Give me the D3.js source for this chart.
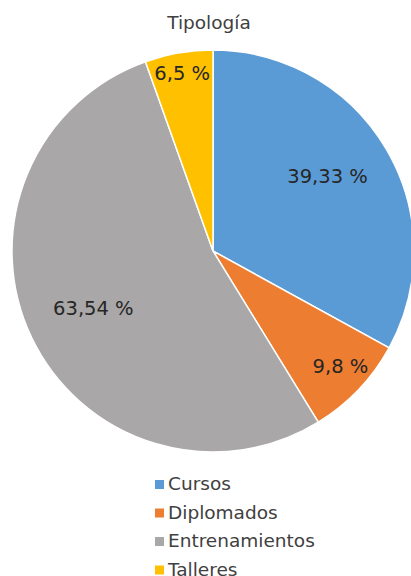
<!DOCTYPE html>
<html><head><meta charset="utf-8">
<script src="https://cdn.jsdelivr.net/npm/d3@7"></script>
<style>html,body{margin:0;padding:0;background:#fff;overflow:hidden}</style>
</head><body>
<svg id="c" width="411" height="576"></svg>
<script>
const title = "Tipología";
const categories = ["Cursos", "Diplomados", "Entrenamientos", "Talleres"];
const values = [39.33, 9.8, 63.54, 6.5];
const labels = ["39,33 %", "9,8 %", "63,54 %", "6,5 %"];
const colors = ["#5B9BD5", "#ED7D31", "#A9A7A7", "#FFC000"];

const svg = d3.select("#c");
const font = "'DejaVu Sans', Verdana, sans-serif";
const cx = 213, cy = 251, r = 201;

svg.append("text").attr("x", 209).attr("y", 29).attr("text-anchor", "middle")
  .attr("font-family", font).attr("font-size", 18.5).attr("fill", "#404040").text(title);

const pie = d3.pie().sort(null).value(d => d)(values);
const arc = d3.arc().innerRadius(0).outerRadius(r);
const g = svg.append("g").attr("transform", `translate(${cx},${cy})`);
g.selectAll("path").data(pie).join("path")
  .attr("d", arc).attr("fill", (d, i) => colors[i])
  .attr("stroke", "#fff").attr("stroke-width", 1.5);

// label radius (fraction of r) and angle tweak (degrees) per slice
const lr = [0.68, 0.855, 0.66, 0.9];
const la = [-2.5, -1.5, 0, 0];
g.selectAll("text.l").data(pie).join("text").attr("class", "l")
  .attr("transform", (d, i) => {
    const a = (d.startAngle + d.endAngle) / 2 + la[i] * Math.PI / 180;
    return `translate(${Math.sin(a) * r * lr[i]},${-Math.cos(a) * r * lr[i]})`;
  })
  .attr("text-anchor", "middle").attr("dy", "0.36em")
  .attr("font-family", font).attr("font-size", 19.5).attr("fill", "#262626")
  .text((d, i) => labels[i]);

const leg = svg.append("g");
categories.forEach((c, i) => {
  const y = 490 + i * 28.5;
  leg.append("rect").attr("x", 155).attr("y", y - 10).attr("width", 9).attr("height", 9).attr("fill", colors[i]);
  leg.append("text").attr("x", 168).attr("y", y).attr("font-family", font)
    .attr("font-size", 18.5).attr("fill", "#404040").text(c);
});
</script>
</body></html>
